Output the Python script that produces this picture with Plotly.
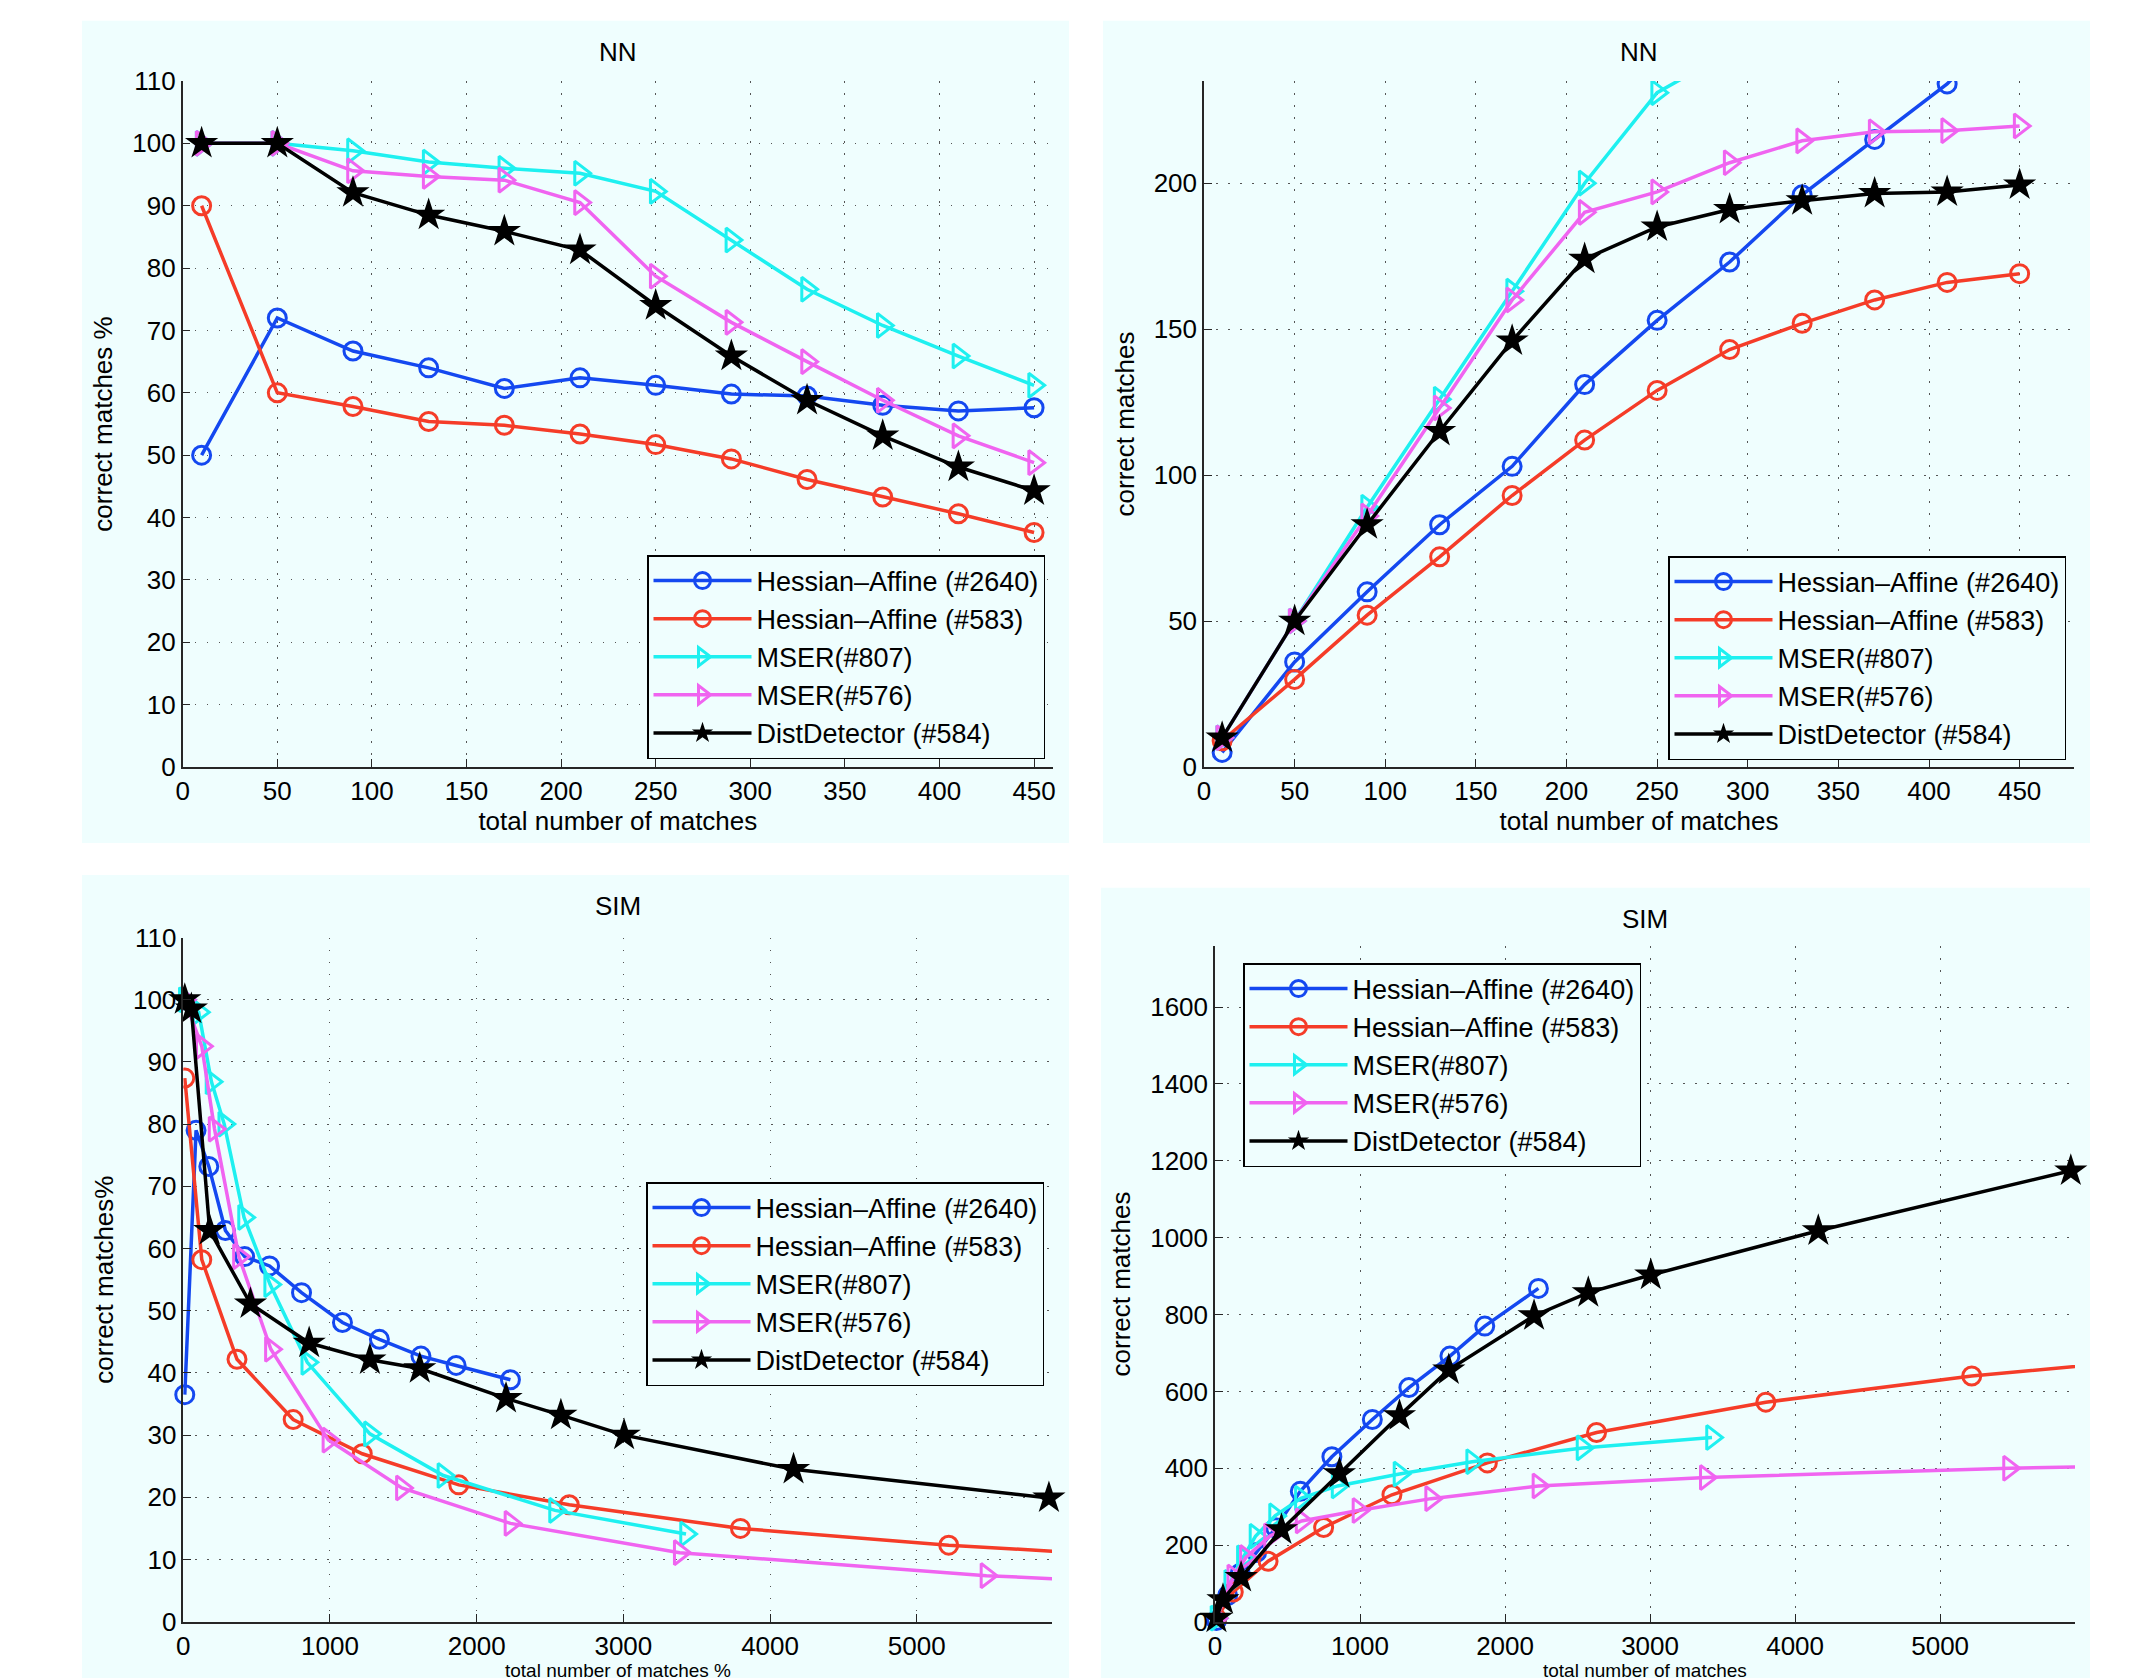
import plotly.graph_objects as go

W, H = 2137, 1678
OFF = 8  # the page body offsets the figure by 8px

# ---------------- data ----------------
series_names = ["Hessian\u2013Affine (#2640)", "Hessian\u2013Affine (#583)",
                "MSER(#807)", "MSER(#576)", "DistDetector (#584)"]

# NN experiments (shared x)
nn_x = [10, 50, 90, 130, 170, 210, 250, 290, 330, 370, 410, 450]
nn_pct_hes2640 = [50, 72, 66.7, 64, 60.7, 62.4, 61.2, 59.8, 59.5, 58, 57.1, 57.6]
nn_pct_hes583 = [90, 60, 57.8, 55.4, 54.8, 53.4, 51.7, 49.4, 46.1, 43.3, 40.6, 37.6]
nn_pct_mser807 = [100, 100, 98.8, 97, 96, 95.2, 92.3, 84.5, 76.6, 70.8, 65.9, 61.2]
nn_pct_mser576 = [100, 100, 95.6, 94.7, 94.1, 90.5, 78.7, 71.3, 65, 58.8, 53.1, 48.8]
nn_pct_dist = [100, 100, 92.1, 88.5, 85.9, 82.9, 74, 65.9, 58.8, 53.1, 48.1, 44.3]

nn_cnt_hes2640 = [5, 36, 60, 83, 103, 131, 153, 173, 196, 215, 234, 259]
nn_cnt_hes583 = [9, 30, 52, 72, 93, 112, 129, 143, 152, 160, 166, 169]
nn_cnt_mser807 = [10, 50, 89, 126, 163, 200, 231, 245, 253, 262, 270, 276]
nn_cnt_mser576 = [10, 50, 86, 123, 160, 190, 197, 207, 214.5, 217.6, 218, 219.6]
nn_cnt_dist = [10, 50, 83, 115, 146, 174, 185, 191, 194, 196.5, 197, 199.4]

# SIM experiments (x per series)
sim_x_hes2640 = [10, 87, 174, 287, 418, 588, 806, 1085, 1337, 1620, 1860, 2230]
sim_pct_hes2640 = [36.5, 79, 73.2, 62.9, 58.7, 57.2, 52.9, 48.1, 45.4, 42.7, 41.2, 38.9]
sim_cnt_hes2640 = [4, 69, 127, 181, 245, 340, 430, 527, 610, 692, 770, 868]

sim_x_hes583 = [10, 126, 366, 749, 1220, 1878, 2631, 3798, 5218, 6600]
sim_pct_hes583 = [87.4, 58.2, 42.2, 32.5, 27, 22, 18.8, 15, 12.3, 10.4]
sim_cnt_hes583 = [9, 78, 158, 246, 331, 414, 493, 572, 640, 688]

sim_x_mser807 = [10, 105, 192, 279, 414, 592, 845, 1272, 1773, 2534, 3427]
sim_pct_mser807 = [100, 98, 86.8, 80, 65, 54.2, 41.7, 30.2, 23.5, 17.9, 14.1]
sim_cnt_mser807 = [10, 103, 167, 223, 276, 322, 354, 385, 417, 453, 480]

sim_x_mser576 = [10, 126, 213, 379, 597, 989, 1490, 2230, 3384, 5475, 6600]
sim_pct_mser576 = [100, 92.5, 79.2, 58.7, 43.8, 29.2, 21.5, 15.8, 11.1, 7.4, 6.2]
sim_cnt_mser576 = [10, 117, 168, 224, 263, 290, 321, 354, 376, 400, 408]

sim_x_dist = [10, 55, 180, 458, 858, 1272, 1612, 2200, 2574, 3005, 4160, 5901]
sim_pct_dist = [100, 98.5, 62.9, 51.1, 44.8, 42.1, 40.7, 35.9, 33.2, 30, 24.5, 19.9]
sim_cnt_dist = [10, 58, 116, 240, 386, 537, 656, 797, 857, 903, 1018, 1174]

panel_titles = ["NN", "NN", "SIM", "SIM"]
x_titles = ["total number of matches", "total number of matches",
            "total number of matches %", "total number of matches"]
y_titles = ["correct matches %", "correct matches", "correct matches%", "correct matches"]

# ---------------- style ----------------
colors = ["#1448F0", "#F53C28", "#1EF0F0", "#F064F0", "#000000"]
symbols = ["circle-open", "circle-open", "triangle-right-open", "triangle-right-open", "star"]
msizes = [18, 18, 21, 21, 25]
BG = "#EFFEFE"
FONT = "Liberation Sans, Arial, Helvetica, sans-serif"
FS = 26
AX = "#262626"

def px(x):
    return (x - OFF) / W

def py(y):
    return 1 - (y - OFF) / H

# plot-area rectangles (window pixels): x0, x1, ytop, ybottom
areas = [
    (182.7, 1053, 81, 767),
    (1204, 2074, 81, 767),
    (183.3, 1052, 937.5, 1621.7),
    (1215, 2075, 946, 1622),
]
xranges = [[0, 460], [0, 480], [0, 5922], [0, 5930]]
yranges = [[0, 110], [0, 235], [0, 110], [0, 1759]]
xdtick = [50, 50, 1000, 1000]
ydtick = [10, 50, 10, 200]
panels_px = [
    (82, 1069, 20.7, 843),
    (1103, 2090, 20.7, 843),
    (82, 1069, 875, 1700),
    (1101, 2090, 887.7, 1700),
]
legend_pos = [(647, 555), (1668, 556), (646, 1182), (1243, 963)]
title_pos = [(618, 52), (1639, 52), (618, 906), (1645, 919)]
bottom_xtitle_y = 1670

data_sets = [
    ([nn_x] * 5, [nn_pct_hes2640, nn_pct_hes583, nn_pct_mser807, nn_pct_mser576, nn_pct_dist]),
    ([nn_x] * 5, [nn_cnt_hes2640, nn_cnt_hes583, nn_cnt_mser807, nn_cnt_mser576, nn_cnt_dist]),
    ([sim_x_hes2640, sim_x_hes583, sim_x_mser807, sim_x_mser576, sim_x_dist],
     [sim_pct_hes2640, sim_pct_hes583, sim_pct_mser807, sim_pct_mser576, sim_pct_dist]),
    ([sim_x_hes2640, sim_x_hes583, sim_x_mser807, sim_x_mser576, sim_x_dist],
     [sim_cnt_hes2640, sim_cnt_hes583, sim_cnt_mser807, sim_cnt_mser576, sim_cnt_dist]),
]

fig = go.Figure()
layout = dict(
    width=W, height=H,
    margin=dict(l=0, r=0, t=0, b=0, autoexpand=False),
    paper_bgcolor="white",
    plot_bgcolor=BG,
    font=dict(family=FONT, size=FS, color="black"),
    showlegend=True,
    shapes=[], annotations=[],
)

for i in range(4):
    sfx = "" if i == 0 else str(i + 1)
    xa, ya = "x" + sfx, "y" + sfx
    leg = "legend" + sfx
    xs, ys = data_sets[i]
    for k in range(5):
        inside = max(xs[k]) <= xranges[i][1] and max(ys[k]) <= yranges[i][1]
        fig.add_trace(go.Scatter(
            x=xs[k], y=ys[k], mode="lines+markers", name=series_names[k],
            xaxis=xa, yaxis=ya, legend=leg, cliponaxis=not inside,
            line=dict(color=colors[k], width=3.5),
            marker=dict(symbol=symbols[k], size=msizes[k], color=colors[k],
                        line=dict(color=colors[k], width=3 if k < 4 else 0)),
        ))
    x0, x1, yt, yb = areas[i]
    common = dict(showline=True, linecolor=AX, linewidth=1.5, mirror=False,
                  automargin=False,
                  ticks="inside", ticklen=8, tickwidth=1.2, tickcolor=AX,
                  showgrid=True, gridcolor="#555555", gridwidth=1.2,
                  griddash="1.5px,10.5px", zeroline=False,
                  tickfont=dict(family=FONT, size=FS, color="black"))
    bottom_row = i >= 2
    xtitle = dict(text=x_titles[i], standoff=6, font=dict(family=FONT, size=FS))
    if bottom_row:
        xtitle = dict(text="")
    layout["xaxis" + sfx] = dict(common, domain=[px(x0), px(x1)], range=xranges[i],
                                 anchor=ya, tick0=0, dtick=xdtick[i], title=xtitle)
    layout["yaxis" + sfx] = dict(common, domain=[py(yb), py(yt)], range=yranges[i],
                                 anchor=xa, tick0=0, dtick=ydtick[i],
                                 title=dict(text=y_titles[i], standoff=12,
                                            font=dict(family=FONT, size=FS)))
    if bottom_row:
        layout["annotations"].append(dict(
            text=x_titles[i], xref="paper", yref="paper",
            x=(px(x0) + px(x1)) / 2, y=py(bottom_xtitle_y),
            xanchor="center", yanchor="middle", showarrow=False, borderpad=0,
            font=dict(family=FONT, size=19)))
    lx, ly = legend_pos[i]
    layout[leg] = dict(x=px(lx), y=py(ly), xanchor="left", yanchor="top",
                       bgcolor=BG, bordercolor="black", borderwidth=1.5,
                       font=dict(family=FONT, size=27, color="black"),
                       itemwidth=98, tracegroupgap=0)
    p0, p1, pt, pb = panels_px[i]
    layout["shapes"].append(dict(type="rect", xref="paper", yref="paper",
                                 x0=px(p0), x1=px(p1), y0=py(pb), y1=py(pt),
                                 fillcolor=BG, line=dict(width=0), layer="below"))
    tx, ty = title_pos[i]
    layout["annotations"].append(dict(text=panel_titles[i], xref="paper", yref="paper",
                                      x=px(tx), y=py(ty), xanchor="center", yanchor="middle",
                                      showarrow=False, font=dict(family=FONT, size=FS)))

fig.update_layout(**layout)
fig.write_html("out.html")
